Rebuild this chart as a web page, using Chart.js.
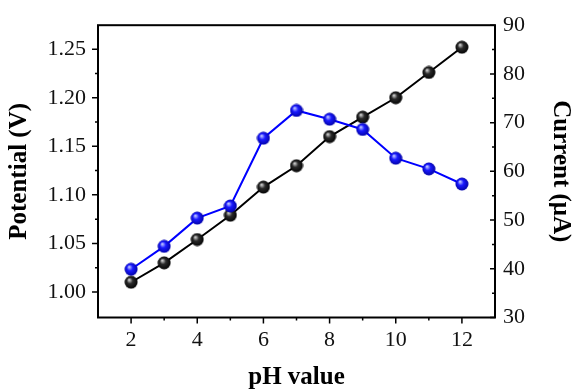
<!DOCTYPE html>
<html>
<head>
<meta charset="utf-8">
<script src="https://cdn.jsdelivr.net/npm/chart.js@4.4.0/dist/chart.umd.min.js"></script>
<style>
html, body { margin: 0; padding: 0; background: #fff; }
#wrap { width: 573px; height: 391px; }
</style>
</head>
<body>
<div id="wrap"><canvas id="chart" width="573" height="391"></canvas></div>
<script>
// data
var phValues = [2, 3, 4, 5, 6, 7, 8, 9, 10, 11, 12];
var potential = [1.010, 1.030, 1.054, 1.079, 1.108, 1.130, 1.160, 1.180, 1.200, 1.226, 1.252];
var current = [39.9, 44.6, 50.4, 52.9, 66.8, 72.5, 70.7, 68.6, 62.7, 60.5, 57.4];

var xTicks = [2, 4, 6, 8, 10, 12];
var xMinor = [3, 5, 7, 9, 11];
var potentialTicks = [1.00, 1.05, 1.10, 1.15, 1.20, 1.25];
var potentialMinor = [1.025, 1.075, 1.125, 1.175, 1.225];
var currentTicks = [30, 40, 50, 60, 70, 80, 90];
var currentMinor = [35, 45, 55, 65, 75, 85];

var serif = '"Liberation Serif", "Times New Roman", serif';

function sphere(light, base, dark) {
	var c = document.createElement('canvas');
	c.width = 14; c.height = 14;
	var g = c.getContext('2d');
	var grad = g.createRadialGradient(5, 4.5, 0.3, 7, 7, 7);
	grad.addColorStop(0, light);
	grad.addColorStop(0.4, base);
	grad.addColorStop(1, dark);
	g.fillStyle = grad;
	g.beginPath();
	g.arc(7, 7, 6.5, 0, Math.PI * 2);
	g.fill();
	return c;
}

function points(ys) {
	var out = [];
	for (var i = 0; i < phValues.length; i++) {
		out.push({x: phValues[i], y: ys[i]});
	}
	return out;
}

function fixTicks(list) {
	return function(scale) {
		scale.ticks = list.map(function(v){ return {value: v}; });
	};
}

// frame + major/minor tick marks, drawn from the scales
var frameTicks = {
	id: 'frameTicks',
	beforeDatasetsDraw: function(chart) {
		var ctx = chart.ctx, a = chart.chartArea;
		var sx = chart.scales.x, sl = chart.scales.y, sr = chart.scales.y1;
		ctx.save();
		ctx.strokeStyle = '#000';
		ctx.lineWidth = 2;
		ctx.strokeRect(a.left, a.top, a.right - a.left, a.bottom - a.top);
		ctx.lineWidth = 1.5;
		ctx.beginPath();
		function hx(vals, len) {
			vals.forEach(function(v){
				var p = sx.getPixelForValue(v);
				ctx.moveTo(p, a.bottom); ctx.lineTo(p, a.bottom + len);
			});
		}
		function vl(vals, len) {
			vals.forEach(function(v){
				var p = sl.getPixelForValue(v);
				ctx.moveTo(a.left - len, p); ctx.lineTo(a.left, p);
			});
		}
		function vr(vals, len) {
			vals.forEach(function(v){
				var p = sr.getPixelForValue(v);
				ctx.moveTo(a.right - len, p); ctx.lineTo(a.right, p);
			});
		}
		hx(xTicks, 6); hx(xMinor, 3);
		vl(potentialTicks, 6); vl(potentialMinor, 3);
		vr(currentTicks, 5); vr(currentMinor, 3);
		ctx.stroke();
		ctx.restore();
	}
};

var chart = new Chart(document.getElementById('chart'), {
	type: 'line',
	data: {
		datasets: [{
			label: 'Current',
			data: points(current),
			yAxisID: 'y1',
			borderColor: '#0000ff',
			borderWidth: 2,
			pointStyle: sphere('#c8d0ff', '#1a1aff', '#0000a0'),
			pointRadius: 6.5
		}, {
			label: 'Potential',
			data: points(potential),
			yAxisID: 'y',
			borderColor: '#000',
			borderWidth: 2,
			pointStyle: sphere('#d8d8d8', '#2a2a2a', '#000'),
			pointRadius: 6.5
		}]
	},
	options: {
		responsive: false,
		animation: false,
		layout: { padding: { top: 22.5, left: 0, right: 0, bottom: 0 } },
		plugins: {
			legend: { display: false },
			tooltip: { enabled: false }
		},
		scales: {
			x: {
				type: 'linear',
				min: 1, max: 13,
				afterBuildTicks: fixTicks(xTicks),
				afterFit: function(s){ s.height = 73.5; },
				grid: { display: false, drawTicks: false },
				border: { display: false },
				ticks: {
					padding: 10, maxRotation: 0, autoSkip: false, color: '#111',
					font: { family: serif, size: 22 }
				},
				title: {
					display: true, text: 'pH value', color: '#000',
					font: { family: serif, size: 25, weight: 'bold', lineHeight: 1 },
					padding: { top: 0, bottom: 1 }
				}
			},
			y: {
				position: 'left',
				min: 0.9737, max: 1.2747,
				afterBuildTicks: fixTicks(potentialTicks),
				afterFit: function(s){ s.width = 98; },
				grid: { display: false, drawTicks: false },
				border: { display: false },
				ticks: {
					padding: 12, autoSkip: false, color: '#111',
					font: { family: serif, size: 22 },
					callback: function(v){ return Number(v).toFixed(2); }
				},
				title: {
					display: true, text: 'Potential (V)', color: '#000',
					font: { family: serif, size: 25, weight: 'bold', lineHeight: 1 },
					padding: { top: 7, bottom: 0 }
				}
			},
			y1: {
				position: 'right',
				min: 30, max: 90,
				afterBuildTicks: fixTicks(currentTicks),
				afterFit: function(s){ s.width = 78; },
				grid: { display: false, drawTicks: false },
				border: { display: false },
				ticks: {
					padding: 8, autoSkip: false, color: '#111',
					font: { family: serif, size: 22 }
				},
				title: {
					display: true, text: 'Current (\u03bcA)', color: '#000',
					font: { family: serif, size: 25, weight: 'bold', lineHeight: 1 },
					padding: { top: 0, bottom: 0 }
				}
			}
		}
	},
	plugins: [frameTicks]
});
</script>
</body>
</html>
